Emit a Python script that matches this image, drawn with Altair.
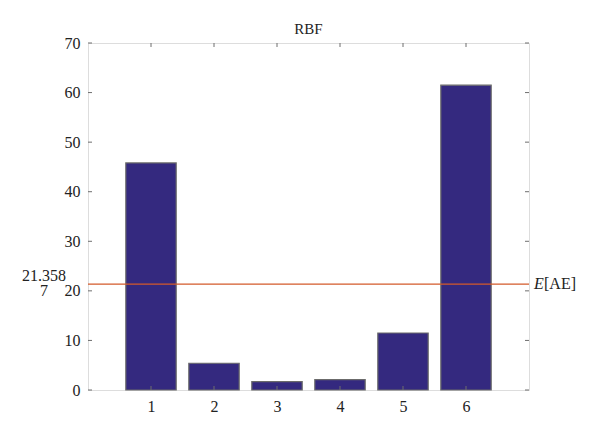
import altair as alt
import pandas as pd

categories = [1, 2, 3, 4, 5, 6]
values = [45.8, 5.4, 1.7, 2.1, 11.5, 61.5]
mean_ae = 21.3587
y_ticks = [0, 10, 20, 30, 40, 50, 60, 70]
mean_label = ["21.358", "7"]
title_text = "RBF"

W, H = 441, 347
FONT = "Liberation Serif"
FRAME = "#6e6e6e"

bars_df = pd.DataFrame({"cat": categories, "val": values})
bars_df["x0"] = bars_df["cat"] - 0.4
bars_df["x1"] = bars_df["cat"] + 0.4

xs = alt.Scale(domain=[0, 7], nice=False, zero=False)
ys = alt.Scale(domain=[0, 70], nice=False)

bars = alt.Chart(bars_df).mark_rect(
    fill="#34297f", stroke="#6b6b6b", strokeWidth=1.2
).encode(
    x=alt.X("x0:Q", scale=xs, axis=alt.Axis(
        values=categories, title=None, grid=False, domain=False, ticks=False,
        labelFont=FONT, labelFontSize=16, labelColor="#222", labelPadding=8, format="d")),
    x2="x1:Q",
    y=alt.Y("val:Q", scale=ys, axis=alt.Axis(
        values=y_ticks, title=None, grid=False, domain=False, ticks=False,
        labelFont=FONT, labelFontSize=16, labelColor="#222", labelPadding=8)),
    y2=alt.datum(0),
)

xt_df = pd.DataFrame({"cat": categories})
yt_df = pd.DataFrame({"v": y_ticks})

xt_bot = alt.Chart(xt_df).mark_rule(color=FRAME).encode(
    x=alt.X("cat:Q", scale=xs), y=alt.value(H), y2=alt.value(H - 4))
xt_top = alt.Chart(xt_df).mark_rule(color=FRAME).encode(
    x=alt.X("cat:Q", scale=xs), y=alt.value(0), y2=alt.value(4))
yt_left = alt.Chart(yt_df).mark_rule(color=FRAME).encode(
    y=alt.Y("v:Q", scale=ys), x=alt.value(0), x2=alt.value(4))
yt_right = alt.Chart(yt_df).mark_rule(color=FRAME).encode(
    y=alt.Y("v:Q", scale=ys), x=alt.value(W), x2=alt.value(W - 4))

m_df = pd.DataFrame({"m": [mean_ae]})
mline = alt.Chart(m_df).mark_rule(color="#d35a2a", strokeWidth=1.3).encode(
    y=alt.Y("m:Q", scale=ys), x=alt.value(0), x2=alt.value(W))

mlab = alt.Chart(m_df).mark_text(
    font=FONT, fontSize=16, color="#222", align="center", baseline="middle",
    lineHeight=15, lineBreak="\n", dy=-8
).encode(y=alt.Y("m:Q", scale=ys), x=alt.value(-44), text=alt.value("\n".join(mean_label)))

e_lab = alt.Chart(m_df).mark_text(
    font=FONT, fontSize=16, fontStyle="italic", color="#222", align="left", baseline="middle"
).encode(y=alt.Y("m:Q", scale=ys), x=alt.value(W + 5), text=alt.value("E"))
ae_lab = alt.Chart(m_df).mark_text(
    font=FONT, fontSize=16, color="#222", align="left", baseline="middle"
).encode(y=alt.Y("m:Q", scale=ys), x=alt.value(W + 15), text=alt.value("[AE]"))

ttl = alt.Chart(m_df).mark_text(
    font=FONT, fontSize=15, color="#222", align="center", baseline="alphabetic"
).encode(x=alt.value(W / 2), y=alt.value(-9), text=alt.value(title_text))

chart = alt.layer(
    bars, mline, xt_bot, xt_top, yt_left, yt_right, mlab, e_lab, ae_lab, ttl
).properties(
    width=W, height=H,
    padding={"left": 80, "top": 35, "right": 60, "bottom": 30},
    autosize="none",
).configure_view(stroke=FRAME, strokeWidth=1.2).configure(background="white")

chart.save("out.html", embed_options={"renderer": "svg", "actions": False})
